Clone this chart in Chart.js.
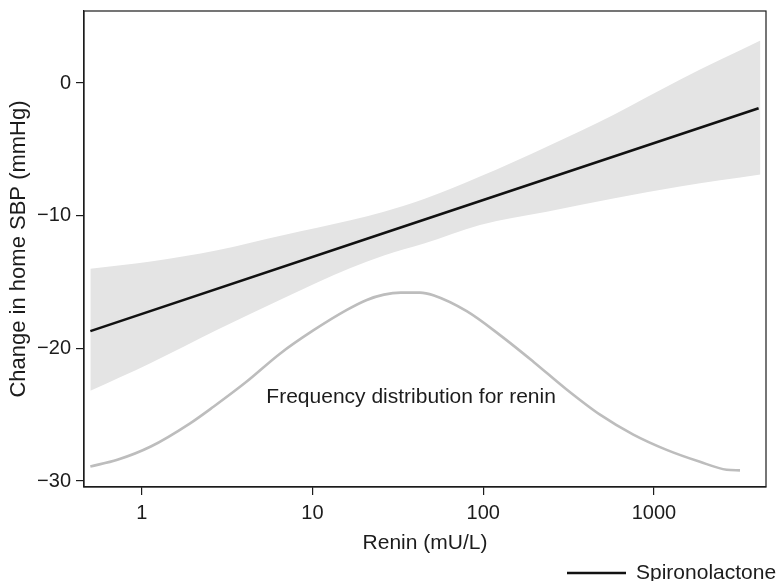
<!DOCTYPE html>
<html>
<head>
<meta charset="utf-8">
<script src="https://cdn.jsdelivr.net/npm/chart.js@4"></script>
<style>
  html, body { margin: 0; padding: 0; background: #fff; }
  #wrap { width: 780px; height: 581px; }
</style>
</head>
<body>
<div id="wrap"><canvas id="c" width="780" height="581"></canvas></div>
<script>
// ---- data ----
const lineRenin = [0.5, 25, 4100];
const lineChange = [-18.7, -11.4, -1.9];

const bandRenin = [0.5, 1.13, 2.77, 6.81, 16.7, 26.2, 45, 95.7, 235.5, 577.7, 1419, 4200];
const bandUpper = [-14.0, -13.45, -12.6, -11.45, -10.35, -9.7, -8.75, -7.05, -4.8, -2.4, 0.25, 3.2];
const bandLower = [-23.2, -21.1, -18.6, -16.2, -13.95, -13.0, -12.1, -10.7, -9.7, -8.7, -7.8, -6.9];

const freqRenin = [0.5, 0.72, 1.13, 1.92, 2.63, 4.12, 6.45, 10.1, 15.9, 20.8, 26.2, 32.9, 42.6, 51, 80, 125.4, 196.5, 308, 483, 757, 1186, 1859, 2666, 3190];
const freqCurve = [-28.9, -28.4, -27.4, -25.65, -24.4, -22.5, -20.4, -18.65, -17.1, -16.35, -15.95, -15.8, -15.8, -16.0, -17.2, -19.0, -21.0, -23.1, -25.0, -26.5, -27.65, -28.55, -29.15, -29.2];

const xTicks = [1, 10, 100, 1000];
const yTicks = [-30, -20, -10, 0];

const seriesLabel = 'Spironolactone';
const freqLabel = 'Frequency distribution for renin';
const freqLabelAt = { x: 37.8, y: -23.65 };
const xTitle = 'Renin (mU/L)';
const yTitle = 'Change in home SBP (mmHg)';

// ---- build ----
const pts = (xs, ys) => xs.map((x, i) => ({ x: x, y: ys[i] }));
const FONT = '"Liberation Sans", Arial, Helvetica, sans-serif';
const INK = '#1c1c1c';

const framePlugin = {
  id: 'frame',
  afterDraw(chart) {
    const { ctx, chartArea: a } = chart;
    ctx.save();
    ctx.strokeStyle = INK;
    ctx.lineWidth = 1.2;
    ctx.strokeRect(a.left, a.top, a.right - a.left, a.bottom - a.top);
    // annotation text placed in data coordinates
    const xs = chart.scales.x, ys = chart.scales.y;
    ctx.fillStyle = INK;
    ctx.font = '21px ' + FONT;
    ctx.textAlign = 'center';
    ctx.textBaseline = 'middle';
    ctx.fillText(freqLabel, xs.getPixelForValue(freqLabelAt.x), ys.getPixelForValue(freqLabelAt.y));
    // legend entry for the fitted line
    const ds = chart.data.datasets[0];
    const ly = 573;
    ctx.strokeStyle = ds.borderColor;
    ctx.lineWidth = ds.borderWidth;
    ctx.beginPath();
    ctx.moveTo(567, ly);
    ctx.lineTo(626, ly);
    ctx.stroke();
    ctx.textAlign = 'left';
    ctx.fillText(ds.label, 636, ly);
    ctx.restore();
  }
};

new Chart(document.getElementById('c'), {
  type: 'line',
  data: {
    datasets: [
      {
        label: seriesLabel,
        data: pts(lineRenin, lineChange),
        borderColor: '#111111',
        borderWidth: 2.6,
        pointRadius: 0,
        fill: false,
        tension: 0
      },
      {
        label: 'Frequency',
        data: pts(freqRenin, freqCurve),
        borderColor: '#bdbdbd',
        borderWidth: 2.6,
        pointRadius: 0,
        fill: false,
        cubicInterpolationMode: 'monotone'
      },
      {
        label: 'Upper',
        data: pts(bandRenin, bandUpper),
        borderWidth: 0,
        borderColor: 'rgba(0,0,0,0)',
        backgroundColor: '#e4e4e4',
        pointRadius: 0,
        fill: '+1',
        cubicInterpolationMode: 'monotone'
      },
      {
        label: 'Lower',
        data: pts(bandRenin, bandLower),
        borderWidth: 0,
        borderColor: 'rgba(0,0,0,0)',
        backgroundColor: '#e4e4e4',
        pointRadius: 0,
        fill: false,
        cubicInterpolationMode: 'monotone'
      }
    ]
  },
  options: {
    responsive: false,
    animation: false,
    devicePixelRatio: 1,
    layout: { padding: { top: 11, right: 14, left: 0, bottom: 0 } },
    plugins: {
      legend: { display: false },
      tooltip: { enabled: false }
    },
    scales: {
      x: {
        type: 'logarithmic',
        min: 0.459,
        max: 4530,
        afterBuildTicks: (s) => { s.ticks = xTicks.map(v => ({ value: v })); },
        afterFit: (s) => { s.height = 94; s.paddingLeft = 0; s.paddingRight = 0; },
        ticks: {
          callback: (v) => String(v),
          color: INK,
          font: { family: FONT, size: 20 },
          padding: 6,
          maxRotation: 0,
          autoSkip: false
        },
        grid: { display: true, drawOnChartArea: false, drawTicks: true, tickLength: 8, color: INK, lineWidth: 1.2 },
        border: { display: true, color: INK, width: 1.2 },
        title: {
          display: true,
          text: xTitle,
          color: INK,
          font: { family: FONT, size: 21 },
          padding: { top: 0, bottom: 25 }
        }
      },
      y: {
        type: 'linear',
        min: -30.45,
        max: 5.43,
        afterBuildTicks: (s) => { s.ticks = yTicks.map(v => ({ value: v })); },
        afterFit: (s) => { s.width = 84; s.paddingTop = 0; s.paddingBottom = 0; },
        ticks: {
          callback: (v) => (v < 0 ? '\u2212' + Math.abs(v) : String(v)),
          color: INK,
          font: { family: FONT, size: 20 },
          padding: 5,
          autoSkip: false
        },
        grid: { display: true, drawOnChartArea: false, drawTicks: true, tickLength: 8, color: INK, lineWidth: 1.2 },
        border: { display: true, color: INK, width: 1.2 },
        title: {
          display: true,
          text: yTitle,
          color: INK,
          font: { family: FONT, size: 22 },
          padding: { top: 6, bottom: 0 }
        }
      }
    }
  },
  plugins: [framePlugin]
});
</script>
</body>
</html>
